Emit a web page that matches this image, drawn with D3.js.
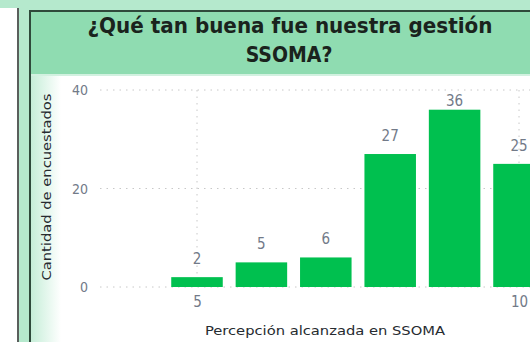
<!DOCTYPE html>
<html>
<head>
<meta charset="utf-8">
<script src="https://cdn.jsdelivr.net/npm/d3@7"></script>
<style>
  html, body { margin: 0; padding: 0; background: #fff; }
  svg { display: block; }
</style>
</head>
<body>
<svg id="chart" width="530" height="342"></svg>
<script>
// Survey results: perceived SSOMA management score vs. respondent count
const scores = [5, 6, 7, 8, 9, 10];
const respondents = [2, 5, 6, 27, 36, 25];
const yTicks = [0, 20, 40];
const xTicks = [5, 10];
const titleLines = ["¿Qué tan buena fue nuestra gestión", "SSOMA?"];
const yTitle = "Cantidad de encuestados";
const xTitle = "Percepción alcanzada en SSOMA";

const W = 530, H = 342;
const svg = d3.select("#chart");
const font = "'DejaVu Sans Condensed', 'DejaVu Sans', sans-serif";

// Frame: outer pale band, left rails, title header
svg.append("rect").attr("x", 0).attr("y", 0).attr("width", W).attr("height", 8).attr("fill", "#b5e9cd");
svg.append("rect").attr("x", 17).attr("y", 0).attr("width", W - 17).attr("height", H).attr("fill", "#b5e9cd");
svg.append("rect").attr("x", 17).attr("y", 8).attr("width", 2).attr("height", H - 8).attr("fill", "#5a5f5c");
svg.append("rect").attr("x", 29).attr("y", 10).attr("width", W - 29).attr("height", H - 10).attr("fill", "#2f4a3b");
svg.append("rect").attr("x", 31).attr("y", 12).attr("width", W - 31).attr("height", 62).attr("fill", "#8fdcb1");
svg.append("rect").attr("x", 31).attr("y", 74).attr("width", W - 31).attr("height", 2).attr("fill", "#d2f1e0");

// Plot panel with soft green shade on its left edge
const defs = svg.append("defs");
const grad = defs.append("linearGradient").attr("id", "leftShade").attr("x1", 0).attr("x2", 1).attr("y1", 0).attr("y2", 0);
grad.append("stop").attr("offset", 0).attr("stop-color", "#c6eed8");
grad.append("stop").attr("offset", 1).attr("stop-color", "#ffffff");
svg.append("rect").attr("x", 31).attr("y", 76).attr("width", W - 31).attr("height", H - 76).attr("fill", "#fff");
svg.append("rect").attr("x", 31).attr("y", 76).attr("width", 30).attr("height", H - 76).attr("fill", "url(#leftShade)");

// Title
const title = svg.append("text")
  .attr("text-anchor", "middle")
  .attr("font-family", font)
  .attr("font-weight", "bold")
  .attr("font-size", 21)
  .attr("fill", "#1a231d");
title.append("tspan").attr("x", 290).attr("y", 33).attr("textLength", 405).attr("lengthAdjust", "spacingAndGlyphs").text(titleLines[0]);
title.append("tspan").attr("x", 289).attr("y", 62).text(titleLines[1]);

// Scales
const x = d3.scaleLinear().domain([5, 10]).range([197, 519]);
const y = d3.scaleLinear().domain([0, 40]).range([287, 90]);
const step = x(6) - x(5);
const barW = step * 0.8;

const plot = svg.append("g");

// Dotted gridlines
plot.selectAll("line.hgrid").data(yTicks).join("line")
  .attr("class", "hgrid")
  .attr("x1", 100).attr("x2", W)
  .attr("y1", d => y(d)).attr("y2", d => y(d))
  .attr("stroke", "#c8c8c8").attr("stroke-width", 1).attr("stroke-dasharray", "1.5,5");
plot.selectAll("line.vgrid").data(xTicks).join("line")
  .attr("class", "vgrid")
  .attr("x1", d => x(d)).attr("x2", d => x(d))
  .attr("y1", y(40)).attr("y2", y(0))
  .attr("stroke", "#c8c8c8").attr("stroke-width", 1).attr("stroke-dasharray", "1.5,5");

// Bars
const data = scores.map((s, i) => ({ s, v: respondents[i] }));
plot.selectAll("rect.bar").data(data).join("rect")
  .attr("class", "bar")
  .attr("x", d => x(d.s) - barW / 2)
  .attr("width", barW)
  .attr("y", d => y(d.v))
  .attr("height", d => y(0) - y(d.v))
  .attr("fill", "#00c04f");

// Value labels
plot.selectAll("text.val").data(data).join("text")
  .attr("class", "val")
  .attr("x", d => x(d.s))
  .attr("y", d => Math.max(y(d.v) - 13, 106))
  .attr("text-anchor", "middle")
  .attr("font-family", font)
  .attr("font-size", 15)
  .attr("fill", "#727a88")
  .text(d => d.v);

// Y axis
const yAxis = svg.append("g").attr("transform", "translate(88,0)")
  .call(d3.axisLeft(y).tickValues(yTicks).tickSize(0).tickPadding(0));
yAxis.select(".domain").remove();
yAxis.selectAll("text")
  .attr("font-family", font).attr("font-size", 14).attr("fill", "#727a88")
  .attr("dy", "0.35em");

// X axis
const xAxis = svg.append("g").attr("transform", "translate(0,296)")
  .call(d3.axisBottom(x).tickValues(xTicks).tickFormat(d3.format("d")).tickSize(0).tickPadding(0));
xAxis.select(".domain").remove();
xAxis.selectAll("text")
  .attr("font-family", font).attr("font-size", 15).attr("fill", "#727a88")
  .attr("dy", "0.71em");

// Axis titles
svg.append("text")
  .attr("transform", "translate(51,187) rotate(-90)")
  .attr("text-anchor", "middle")
  .attr("font-family", font).attr("font-size", 12).attr("fill", "#262b30")
  .attr("textLength", 187).attr("lengthAdjust", "spacingAndGlyphs")
  .text(yTitle);
svg.append("text")
  .attr("x", 325).attr("y", 335)
  .attr("text-anchor", "middle")
  .attr("font-family", font).attr("font-size", 13).attr("fill", "#262b30")
  .attr("textLength", 240).attr("lengthAdjust", "spacingAndGlyphs")
  .text(xTitle);
</script>
</body>
</html>
